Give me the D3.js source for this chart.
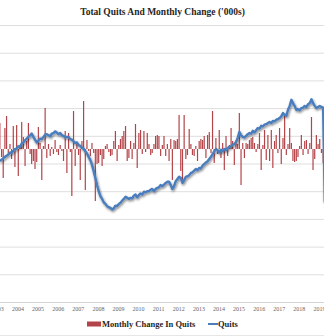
<!DOCTYPE html>
<html><head><meta charset="utf-8">
<script src="https://cdn.jsdelivr.net/npm/d3@7"></script>
<style>
html,body{margin:0;padding:0;background:#fff;}
svg{display:block;}
</style></head>
<body>
<svg id="c" width="324" height="336"></svg>
<script>
// ---- DATA ----
const startYear = 2003, startMonth = 7; // Aug 2003 (0-indexed month)
const quits = [
  // 2003 Aug-Dec
  2545, 2570, 2590, 2620, 2640,
  // 2004
  2660, 2700, 2690, 2730, 2760, 2770, 2810, 2800, 2860, 2880, 2920, 2950,
  // 2005
  2980, 3010, 3040, 2980, 2930, 2880, 2910, 2950, 2940, 2980, 3020, 3030,
  // 2006
  3010, 2990, 3040, 3050, 3080, 3060, 3030, 3050, 3010, 3000, 2970, 2980,
  // 2007
  2980, 2940, 2930, 2900, 2870, 2880, 2830, 2820, 2780, 2770, 2720, 2680,
  // 2008
  2620, 2560, 2480, 2360, 2240, 2110, 2000, 1910, 1860, 1800, 1770, 1730,
  // 2009
  1710, 1700, 1670, 1690, 1740, 1730, 1770, 1790, 1830, 1860, 1900, 1880,
  // 2010
  1860, 1880, 1870, 1920, 1940, 1890, 1930, 1960, 1940, 1990, 1980, 2000,
  // 2011
  2000, 2030, 2040, 2000, 2040, 2060, 2070, 2110, 2090, 2120, 2150, 2170,
  // 2012
  2170, 2110, 2040, 2090, 2180, 2220, 2260, 2240, 2150, 2200, 2260, 2270,
  // 2013
  2290, 2330, 2340, 2370, 2400, 2380, 2420, 2410, 2460, 2490, 2520, 2540,
  // 2014
  2580, 2620, 2670, 2720, 2760, 2740, 2700, 2750, 2720, 2760, 2740, 2780,
  // 2015
  2800, 2810, 2840, 2850, 2890, 2960, 3070, 3010, 2980, 2970, 3000, 3030,
  // 2016
  3050, 3040, 3090, 3060, 3100, 3140, 3130, 3180, 3170, 3200, 3210, 3230,
  // 2017
  3250, 3230, 3270, 3260, 3290, 3300, 3320, 3350, 3410, 3380, 3360, 3470,
  // 2018
  3540, 3650, 3590, 3540, 3470, 3480, 3460, 3500, 3510, 3540, 3520, 3570,
  // 2019 Jan-Oct (last point falls away at the right edge)
  3590, 3660, 3590, 3540, 3500, 3520, 3540, 3520, 3510, 1800
];
const change = [
  // 2003 Aug-Dec
  104, -32, -116, 84, 132,
  // 2004
  -24, 20, -40, 92, -72, 96, -108, 16, 108, 48, -68, 32,
  // 2005
  104, -20, -60, -48, -80, -52, 88, 24, -124, 12, 164, -36,
  // 2006
  20, -28, 8, -20, 36, -12, -24, 16, -8, -48, 72, -96,
  // 2007
  64, -12, -188, 152, -68, 20, -24, -124, 32, 192, -164, 36,
  // 2008
  -8, -28, 24, -16, -208, -60, -56, -24, -68, -40, 12, 20,
  // 2009
  -12, -28, -24, 32, 72, -48, 16, 40, 52, 72, 92, -48,
  // 2010
  -36, 32, -40, 24, 100, -76, 64, 76, -20, 72, -12, 64,
  // 2011
  20, -24, -16, 20, 52, 56, 52, -28, 16, 52, -28, 20,
  // 2012
  -48, 40, -124, 36, 32, 40, 136, -88, -132, 136, -40, -24,
  // 2013
  80, 20, -24, -28, 12, -48, 32, 40, 36, 52, -36, 56,
  // 2014
  68, -16, 152, -56, 44, -20, 76, -36, 24, -84, 52, -28,
  // 2015
  16, 84, 32, -64, 28, 20, 144, -144, 24, -36, 24, 20,
  // 2016
  36, 44, 48, 24, -12, 20, 64, -84, 16, 76, -44, 56,
  // 2017
  -48, 76, -76, 32, 56, -16, 84, -60, 44, 132, -24, 20,
  // 2018
  84, 24, -48, -52, -48, -32, 12, 56, -24, 32, 36, -20,
  // 2019 Jan-Sep
  24, 128, -84, -40, 56, 20, 40, -16, -56
];
const tickYears = [2003,2004,2005,2006,2007,2008,2009,2010,2011,2012,2013,2014,2015,2016,2017,2018,2019];
const title = "Total Quits And Monthly Change ('000s)";
const legendLabels = ["Monthly Change In Quits", "Quits"];

// ---- CHART ----
const W = 324, H = 336;
const plotTop = 25, plotBottom = 302;
const svg = d3.select("#c");
const dates = quits.map((_, i) => new Date(startYear, startMonth + i, 15));
const data = dates.map((d, i) => ({date: d, q: quits[i], c: change[i]}));
const barData = data.filter(d => d.c !== undefined);

const x = d3.scaleTime().domain([new Date(2004,0,1), new Date(2019,0,1)]).range([7.5, 309]);
const yQ = d3.scaleLinear().domain([0, 5000]).range([plotBottom, plotTop]);
const yB = d3.scaleLinear().domain([-612, 496]).range([plotBottom, plotTop]);

// gridlines
svg.append("g")
  .call(d3.axisLeft(yQ).tickValues(d3.range(500, 5001, 500)).tickSize(-W).tickFormat(""))
  .call(g => g.select(".domain").remove())
  .call(g => g.selectAll("line").attr("stroke", "#dedede").attr("stroke-width", 1));

// x axis
const xa = svg.append("g").attr("transform", `translate(0,${plotBottom})`)
  .call(d3.axisBottom(x).tickValues(tickYears.map(y => new Date(y, 6, 1))).tickSize(0).tickPadding(5).tickFormat(d3.timeFormat("%Y")));
xa.select(".domain").attr("stroke", "#d4d4d4").attr("d", `M0,0.5H${W}`);
xa.selectAll("text").attr("font-family", "Liberation Serif, serif").attr("font-size", "6px").attr("fill", "#666");

// bars
svg.append("g").selectAll("rect").data(barData).join("rect")
  .attr("x", d => x(d.date) - 0.6)
  .attr("width", 1.2)
  .attr("y", d => Math.min(yB(d.c), yB(0)))
  .attr("height", d => Math.abs(yB(d.c) - yB(0)))
  .attr("fill", "#b3454a");

// line with shadow
const defs = svg.append("defs");
const f = defs.append("filter").attr("id", "sh").attr("x", "-10%").attr("y", "-10%").attr("width", "120%").attr("height", "130%");
f.append("feDropShadow").attr("dx", 0.8).attr("dy", 1.4).attr("stdDeviation", 0.9).attr("flood-color", "#000").attr("flood-opacity", 0.5);

const line = d3.line().x(d => x(d.date)).y(d => yQ(d.q));
svg.append("path").datum(data)
  .attr("d", line)
  .attr("fill", "none")
  .attr("stroke", "#4a7dbd")
  .attr("stroke-width", 2.4)
  .attr("stroke-linejoin", "round")
  .attr("filter", "url(#sh)");

// title
svg.append("text").attr("x", 162.5).attr("y", 15).attr("text-anchor", "middle")
  .attr("font-family", "Liberation Serif, serif").attr("font-weight", "bold").attr("font-size", "9.5px")
  .attr("fill", "#262626").text(title);

// legend
const lg = svg.append("g");
lg.append("rect").attr("x", 87).attr("y", 321.5).attr("width", 14).attr("height", 5).attr("fill", "#b3454a");
lg.append("text").attr("x", 102).attr("y", 327).attr("font-family", "Liberation Serif, serif").attr("font-weight", "bold")
  .attr("font-size", "8.5px").attr("fill", "#262626").text(legendLabels[0]);
lg.append("line").attr("x1", 208).attr("x2", 218).attr("y1", 324).attr("y2", 324).attr("stroke", "#4a7dbd").attr("stroke-width", 2);
lg.append("text").attr("x", 218).attr("y", 327).attr("font-family", "Liberation Serif, serif").attr("font-weight", "bold")
  .attr("font-size", "8.5px").attr("fill", "#262626").text(legendLabels[1]);

// bottom border
svg.append("line").attr("x1", 0).attr("x2", W).attr("y1", 335.5).attr("y2", 335.5).attr("stroke", "#e6e6e6");
</script>
</body></html>
